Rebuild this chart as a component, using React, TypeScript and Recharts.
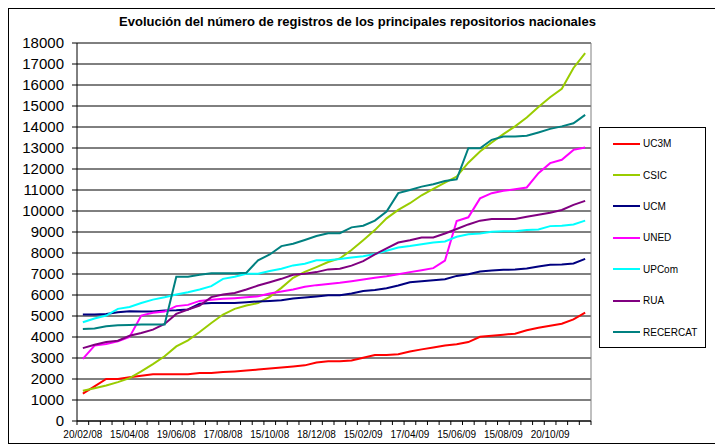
import { LineChart, Line, XAxis, YAxis, CartesianGrid, Legend, ReferenceLine } from 'recharts'

// ─── Data ─────────────────────────────────────────────────────────────────────

const dateLabels = [
  '20/02/08', '15/04/08', '19/06/08', '17/08/08', '15/10/08', '18/12/08',
  '15/02/09', '17/04/09', '15/06/09', '15/08/09', '20/10/09',
]
const labelEvery = 4

const yTicks = [
  0, 1000, 2000, 3000, 4000, 5000, 6000, 7000, 8000, 9000,
  10000, 11000, 12000, 13000, 14000, 15000, 16000, 17000, 18000,
]

const uc3m = [
  1300, 1650, 2000, 2000, 2080, 2150, 2230, 2230, 2230, 2230,
  2280, 2280, 2330, 2360, 2400, 2450, 2500, 2550, 2600, 2650,
  2790, 2840, 2850, 2880, 3010, 3140, 3140, 3180, 3310, 3410,
  3500, 3600, 3650, 3760, 4010, 4060, 4110, 4160, 4320, 4440,
  4540, 4630, 4840, 5160,
]
const csic = [
  1440, 1560, 1690, 1850, 2040, 2360, 2710, 3080, 3550, 3840,
  4240, 4670, 5070, 5340, 5500, 5620, 5910, 6340, 6820, 7100,
  7330, 7570, 7740, 8140, 8610, 9090, 9650, 10050, 10370, 10750,
  11050, 11350, 11640, 12300, 12830, 13260, 13660, 14030, 14450, 14950,
  15420, 15820, 16810, 17520,
]
const ucm = [
  5070, 5070, 5100, 5180, 5230, 5210, 5210, 5260, 5270, 5310,
  5580, 5620, 5620, 5620, 5660, 5690, 5720, 5750, 5830, 5880,
  5930, 5990, 5990, 6070, 6190, 6240, 6320, 6450, 6610, 6660,
  6700, 6750, 6910, 6990, 7120, 7170, 7200, 7210, 7260, 7360,
  7440, 7450, 7500, 7720,
]
const uned = [
  2960, 3590, 3670, 3790, 4000, 5020, 5150, 5210, 5470, 5530,
  5720, 5770, 5820, 5850, 5890, 5940, 6070, 6170, 6260, 6390,
  6470, 6520, 6580, 6660, 6740, 6820, 6890, 6990, 7090, 7180,
  7280, 7640, 9520, 9700, 10600, 10850, 10960, 11040, 11120, 11800,
  12280, 12440, 12910, 13020,
]
const upcom = [
  4700, 4880, 5020, 5340, 5430, 5620, 5780, 5890, 6020, 6130,
  6260, 6420, 6770, 6870, 7010, 7010, 7140, 7250, 7410, 7490,
  7650, 7660, 7710, 7790, 7850, 7950, 8110, 8260, 8330, 8420,
  8500, 8550, 8770, 8890, 8930, 9010, 9040, 9040, 9090, 9120,
  9280, 9300, 9360, 9540,
]
const rua = [
  3470, 3630, 3760, 3820, 4060, 4190, 4350, 4620, 5100, 5310,
  5500, 5900, 6020, 6100, 6260, 6450, 6610, 6770, 6960, 7010,
  7090, 7220, 7250, 7400, 7610, 7930, 8220, 8500, 8610, 8740,
  8740, 8930, 9140, 9360, 9540, 9620, 9620, 9620, 9730, 9820,
  9920, 10050, 10290, 10480,
]
const recercat = [
  4380, 4410, 4510, 4560, 4570, 4590, 4590, 4590, 6870, 6870,
  6960, 7030, 7030, 7030, 7060, 7650, 7930, 8330, 8440, 8620,
  8810, 8940, 8940, 9220, 9300, 9540, 9970, 10850, 11000, 11160,
  11270, 11430, 11510, 12990, 12990, 13390, 13550, 13550, 13580, 13740,
  13910, 14030, 14180, 14580,
]

const series = [
  { key: 'UC3M', color: '#ff0000', values: uc3m },
  { key: 'CSIC', color: '#99cc00', values: csic },
  { key: 'UCM', color: '#000080', values: ucm },
  { key: 'UNED', color: '#ff00ff', values: uned },
  { key: 'UPCom', color: '#00ffff', values: upcom },
  { key: 'RUA', color: '#800080', values: rua },
  { key: 'RECERCAT', color: '#008080', values: recercat },
]

// one row per sampled date, x sits in the middle of its category slot
const data = uc3m.map((_, i) => {
  const row: Record<string, number> = { x: i + 0.5 }
  series.forEach(s => { row[s.key] = s.values[i] })
  return row
})

const slotCount = data.length
const boundaryTicks = Array.from({ length: slotCount + 1 }, (_, i) => i)
const labelTicks = dateLabels.map((_, i) => i * labelEvery + 0.5)
const xTicks = [...boundaryTicks, ...labelTicks].sort((a, b) => a - b)

// ─── Axis tick: marks on slot boundaries, dates in slot centres ───────────────

function DateTick({ x, y, payload }: any) {
  const v = payload.value as number
  if (Number.isInteger(v)) {
    return <line x1={x} y1={y} x2={x} y2={y + 4} stroke="#000" />
  }
  const label = dateLabels[Math.round((v - 0.5) / labelEvery)]
  return (
    <text x={x} y={y + 17} textAnchor="middle" fontSize={10} fill="#000">
      {label}
    </text>
  )
}

// ─── Legend box (kept in series order, like the original) ─────────────────────

function LegendBox() {
  return (
    <div
      style={{
        boxSizing: 'border-box', width: 107, height: 221, border: '1px solid #000',
        background: '#fff',
      }}
    >
      {series.map(s => (
        <div key={s.key} style={{ height: 31.4, display: 'flex', alignItems: 'center' }}>
          <span style={{ marginLeft: 13, width: 27, height: 2, background: s.color, display: 'inline-block' }} />
          <span style={{ marginLeft: 3, fontSize: 10, color: '#000' }}>{s.key}</span>
        </div>
      ))}
    </div>
  )
}

// ─── Component ────────────────────────────────────────────────────────────────

export default function App() {
  return (
    <div
      style={{
        position: 'absolute', left: 0, top: 0, width: 715, height: 445, overflow: 'hidden',
        background: '#fff', fontFamily: '"Liberation Sans", Arial, sans-serif',
      }}
    >
      <div
        style={{
          position: 'absolute', left: 8, top: 8, width: 730, height: 434,
          border: '1px solid #000',
        }}
      />
      <div
        style={{
          position: 'absolute', left: 0, top: 14, width: 715, textAlign: 'center',
          fontSize: 13, fontWeight: 'bold', lineHeight: '15px', color: '#000',
        }}
      >
        Evolución del número de registros de los principales repositorios nacionales
      </div>
      <div style={{ position: 'absolute', left: 0, top: 0 }}>
        <LineChart width={715} height={445} data={data} margin={{ top: 43, right: 124, bottom: 0, left: 0 }}>
          <CartesianGrid vertical={false} stroke="#000" />
          <XAxis
            dataKey="x"
            type="number"
            domain={[0, slotCount]}
            ticks={xTicks}
            interval={0}
            height={24}
            tickSize={0}
            tickMargin={0}
            tickLine={false}
            stroke="#000"
            tick={<DateTick />}
          />
          <YAxis
            domain={[0, 18000]}
            ticks={yTicks}
            interval={0}
            width={77}
            tickSize={5}
            tickMargin={8}
            stroke="#000"
            tick={{ fontSize: 15, fill: '#000' }}
          />
          <ReferenceLine x={slotCount} stroke="#808080" />
          <ReferenceLine y={18000} stroke="#808080" />
          {series.map(s => (
            <Line
              key={s.key}
              type="linear"
              dataKey={s.key}
              name={s.key}
              stroke={s.color}
              strokeWidth={2}
              dot={false}
              isAnimationActive={false}
            />
          ))}
          <Legend
            layout="vertical"
            align="center"
            verticalAlign="middle"
            content={<LegendBox />}
            wrapperStyle={{ position: 'absolute', left: 599, top: 127, width: 107, height: 221 }}
          />
        </LineChart>
      </div>
    </div>
  )
}
